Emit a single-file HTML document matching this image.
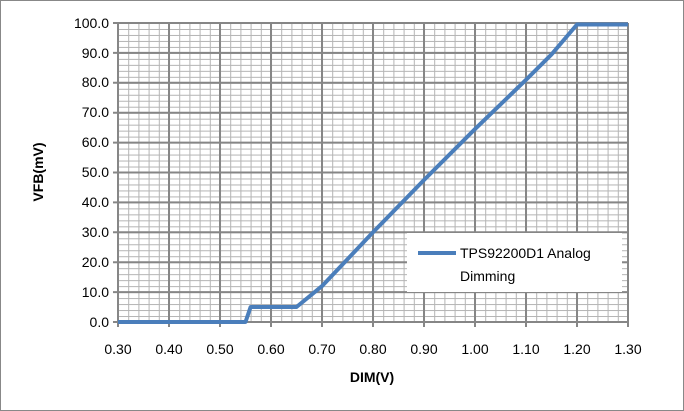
<!DOCTYPE html>
<html><head><style>body{margin:0;background:#fff}svg{display:block}</style></head><body>
<svg width="684" height="411" xmlns="http://www.w3.org/2000/svg" font-family="Liberation Sans, sans-serif">
<defs>
<pattern id="mg" patternUnits="userSpaceOnUse" x="118" y="23" width="10.2" height="5.98">
<line x1="0" y1="0" x2="0" y2="5.98" stroke="#b4b4b4" stroke-width="2"/>
<line x1="0" y1="0" x2="10.2" y2="0" stroke="#b4b4b4" stroke-width="2"/>
</pattern>
</defs>
<rect x="0.5" y="0.5" width="683" height="410" fill="#fff" stroke="#888"/>
<rect x="118" y="23" width="510" height="299" fill="url(#mg)"/>
<g stroke="#868686" stroke-width="2">
<line x1="118" y1="23" x2="118" y2="327"/><line x1="169" y1="23" x2="169" y2="327"/><line x1="220" y1="23" x2="220" y2="327"/><line x1="271" y1="23" x2="271" y2="327"/><line x1="322" y1="23" x2="322" y2="327"/><line x1="373" y1="23" x2="373" y2="327"/><line x1="424" y1="23" x2="424" y2="327"/><line x1="475" y1="23" x2="475" y2="327"/><line x1="526" y1="23" x2="526" y2="327"/><line x1="577" y1="23" x2="577" y2="327"/><line x1="628" y1="23" x2="628" y2="327"/>
<line x1="113" y1="322" x2="628" y2="322"/><line x1="113" y1="292.1" x2="628" y2="292.1"/><line x1="113" y1="262.2" x2="628" y2="262.2"/><line x1="113" y1="232.3" x2="628" y2="232.3"/><line x1="113" y1="202.4" x2="628" y2="202.4"/><line x1="113" y1="172.5" x2="628" y2="172.5"/><line x1="113" y1="142.6" x2="628" y2="142.6"/><line x1="113" y1="112.7" x2="628" y2="112.7"/><line x1="113" y1="82.8" x2="628" y2="82.8"/><line x1="113" y1="52.9" x2="628" y2="52.9"/><line x1="113" y1="23" x2="628" y2="23"/>
</g>
<g font-size="14" text-anchor="middle">
<text x="118" y="354">0.30</text><text x="169" y="354">0.40</text><text x="220" y="354">0.50</text><text x="271" y="354">0.60</text><text x="322" y="354">0.70</text><text x="373" y="354">0.80</text><text x="424" y="354">0.90</text><text x="475" y="354">1.00</text><text x="526" y="354">1.10</text><text x="577" y="354">1.20</text><text x="628" y="354">1.30</text>
</g>
<g font-size="14" text-anchor="end">
<text x="109" y="327">0.0</text><text x="109" y="297">10.0</text><text x="109" y="267">20.0</text><text x="109" y="237">30.0</text><text x="109" y="207">40.0</text><text x="109" y="177">50.0</text><text x="109" y="147">60.0</text><text x="109" y="117">70.0</text><text x="109" y="87">80.0</text><text x="109" y="58">90.0</text><text x="109" y="28">100.0</text>
</g>
<polyline fill="none" stroke="#4a7ebb" stroke-width="4" stroke-linejoin="round" points="118,322 245.5,322 250.6,307 296.5,307 322,286.1 373,232.3 424,180 475,129.1 526,79.8 551.5,54.4 577,24.5 628,24.5"/>
<rect x="407" y="233" width="215" height="59" fill="#fff"/>
<line x1="418" y1="253" x2="456" y2="253" stroke="#4a7ebb" stroke-width="4"/>
<text x="460" y="258" font-size="14">TPS92200D1 Analog</text>
<text x="460" y="281" font-size="14">Dimming</text>
<text x="372" y="382" font-size="14" font-weight="bold" text-anchor="middle">DIM(V)</text>
<text transform="translate(43,172) rotate(-90)" font-size="14" font-weight="bold" text-anchor="middle">VFB(mV)</text>
</svg>
</body></html>
